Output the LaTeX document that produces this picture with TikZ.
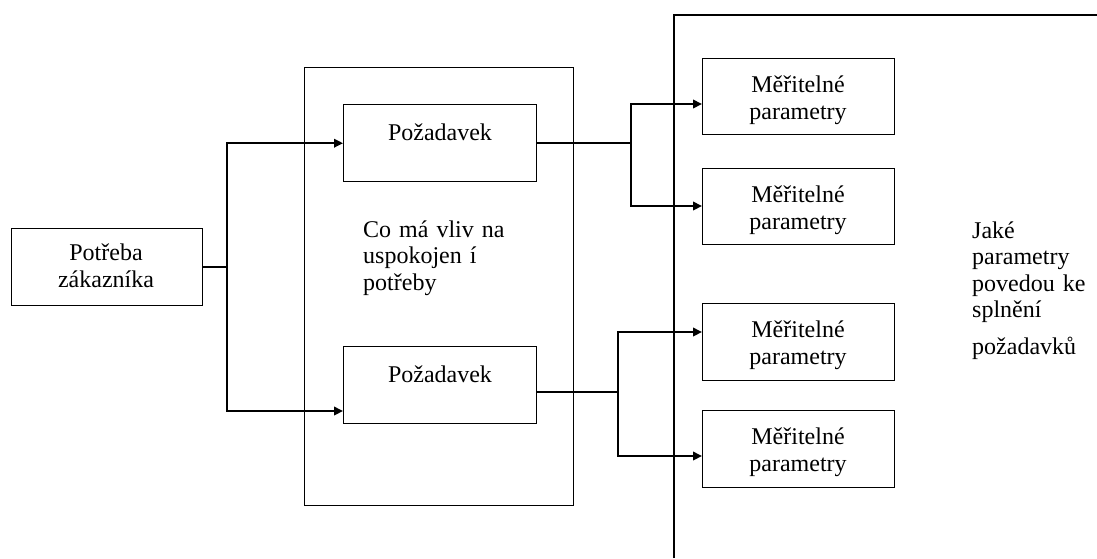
\documentclass[tikz,border=0pt]{standalone}
\usepackage{fontspec}
\setmainfont{Liberation Serif}
\usetikzlibrary{arrows.meta}
\begin{document}
\begin{tikzpicture}[x=1pt,y=-1pt,
  box/.style={draw,line width=1.4pt,inner sep=0pt,anchor=north west},
  txt/.style={font=\fontsize{24}{26}\selectfont,inner sep=0pt,anchor=base},
  blk/.style={font=\fontsize{24}{26.5}\selectfont,inner sep=0pt,anchor=base west,text width=180pt,align=left},
  conn/.style={line width=2pt},
  arr/.style={line width=2pt,-{Triangle[length=9pt,width=8.5pt]}},
  frame/.style={line width=1.4pt}]
\useasboundingbox (0,0) rectangle (1097,558);

% customer need
\node[box,minimum width=191pt,minimum height=77pt] (pz) at (11,228) {};
\node[txt] (pzt1) at (106,260) {Potřeba};
\node[txt] (pzt2) at (106,287) {zákazníka};

% requirements frame
\node[box,minimum width=269pt,minimum height=438pt] (mid) at (304,67) {};
\node[box,minimum width=193pt,minimum height=77pt] (rq1) at (343,104) {};
\node[txt] (rq1t) at (440,140) {Požadavek};
\node[box,minimum width=193pt,minimum height=77pt] (rq2) at (343,346) {};
\node[txt] (rq2t) at (440,382) {Požadavek};
\node[blk] (midt) at (363,237) {Co má vliv na\\uspokojen í\\potřeby};

% parameters frame (open to the right and bottom)
\coordinate (fb) at (674,558);
\coordinate (ft) at (674,15);
\coordinate (fr) at (1097,15);
\draw[frame] (fb) -- (ft) -- (fr);

\node[box,minimum width=192pt,minimum height=76pt] (p1) at (702,58) {};
\node[box,minimum width=192pt,minimum height=76pt] (p2) at (702,168) {};
\node[box,minimum width=192pt,minimum height=77pt] (p3) at (702,303) {};
\node[box,minimum width=192pt,minimum height=77pt] (p4) at (702,410) {};
\foreach \b/\y in {p1/92,p2/202,p3/337,p4/444}{
  \node[txt] (\b a) at (798,\y) {Měřitelné};
  \node[txt] (\b b) at (798,\y+27) {parametry};
}

\node[blk,text width=120pt] (rt) at (972,238) {Jaké\\parametry\\povedou ke\\splnění\\[10pt]požadavků};

% customer need to requirements
\coordinate (rq2in) at (343,411);
\draw[conn] (pz.east) -- ++(24,0) coordinate (j0);
\draw[arr] (j0) |- (rq1.west);
\draw[arr] (j0) |- (rq2in);

% requirements to parameters
\coordinate (rq2out) at (536,392);
\coordinate (p1in) at (702,104);
\coordinate (p2in) at (702,206);
\coordinate (p3in) at (702,332);
\coordinate (p4in) at (702,456);
\draw[conn] (rq1.east) -- ++(94,0) coordinate (j1);
\draw[arr] (j1) |- (p1in);
\draw[arr] (j1) |- (p2in);
\draw[conn] (rq2out) -- ++(82,0) coordinate (j2);
\draw[arr] (j2) |- (p3in);
\draw[arr] (j2) |- (p4in);
\end{tikzpicture}
\end{document}
